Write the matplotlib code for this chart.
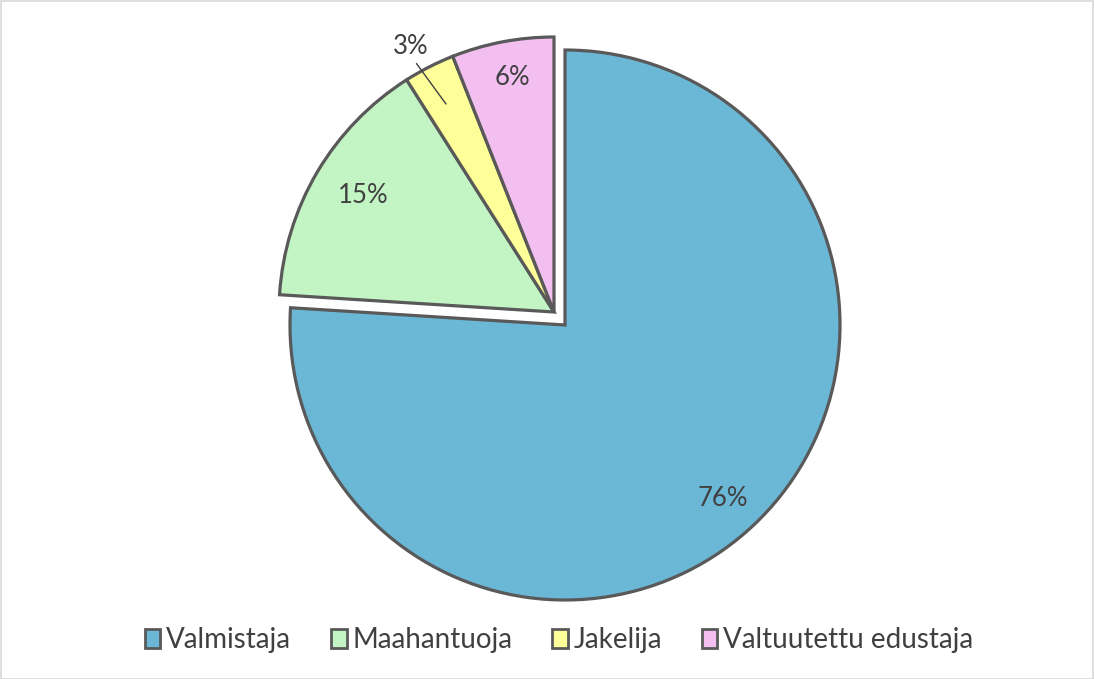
import matplotlib
matplotlib.use("Agg")
import matplotlib.pyplot as plt
from matplotlib.patches import Rectangle

categories = ["Valmistaja", "Maahantuoja", "Jakelija", "Valtuutettu edustaja"]
values = [76, 15, 3, 6]
labels = ["76%", "15%", "3%", "6%"]
colors = ["#6BB7D6", "#C3F4C3", "#FFFF99", "#F3BEF0"]

plt.rcParams['font.family'] = ['Lato', 'DejaVu Sans']

W, H = 1094, 679
fig = plt.figure(figsize=(W / 100, H / 100), dpi=100)
fig.patches.append(Rectangle((0.5 / W, 0.5 / H), 1 - 1.5 / W, 1 - 1.5 / H, transform=fig.transFigure,
                             fill=False, edgecolor="#D9D9D9", linewidth=1.2))

cx, cy = 565, H - 325
half = 300
ax = fig.add_axes([(cx - half) / W, (cy - half) / H, 2 * half / W, 2 * half / H])

R = 275
wedges, _ = ax.pie(values, colors=colors, startangle=90, counterclock=False, radius=R,
                   wedgeprops=dict(edgecolor="#595959", linewidth=2.3, joinstyle='miter'))
off = (-11, 13)
for w in wedges[1:]:
    w.set_center(off)
ax.set_xlim(-half, half)
ax.set_ylim(-half, half)
ax.set_aspect('equal')
ax.axis('off')

tc = "#404040"
fs = 18.5
ax.text(158, -173, labels[0], ha='center', va='center', fontsize=fs, color=tc)
ax.text(off[0] - 191, off[1] + 117, labels[1], ha='center', va='center', fontsize=fs, color=tc)
ax.text(off[0] - 42, off[1] + 235, labels[3], ha='center', va='center', fontsize=fs, color=tc)
ax.annotate(labels[2], xy=(446 - cx, 325 - 104), xytext=(411 - cx, 325 - 46),
            ha='center', va='center', fontsize=fs, color=tc,
            arrowprops=dict(arrowstyle='-', color=tc, lw=1.0, shrinkA=2, shrinkB=0,
                            relpos=(0.55, 0.0)))

handles = [Rectangle((0, 0), 1, 1, facecolor=c, edgecolor="#595959", linewidth=2) for c in colors]
fig.legend(handles, categories, loc='center', bbox_to_anchor=(0.511, 1 - 640 / H), ncol=4,
           frameon=False, fontsize=20, handlelength=0.55, handleheight=0.65, handletextpad=0.2,
           columnspacing=1.45, labelcolor="#404040")

fig.savefig("out.png", dpi=100)
